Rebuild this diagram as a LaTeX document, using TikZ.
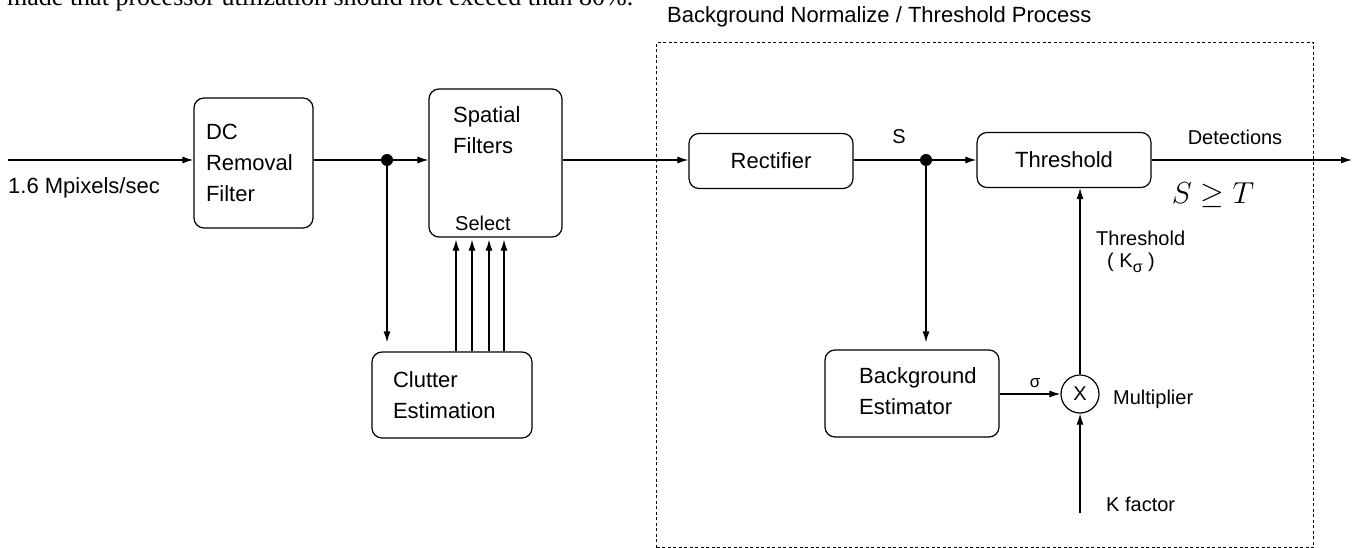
\documentclass[tikz,border=0pt]{standalone}
\usepackage{graphicx}
\usepackage{fontspec}
\setmainfont{Liberation Sans}
\newfontfamily\serifnote{Liberation Serif}
\usetikzlibrary{arrows.meta}
\begin{document}
\begin{tikzpicture}[x=1pt,y=-1pt,
  box/.style={draw, line width=1.2pt, rounded corners=10pt, inner sep=0pt},
  conn/.style={line width=1.2pt},
  arr/.style={conn, -{Latex[length=11pt,width=7pt]}},
  boxtext/.style={font=\fontsize{22}{31}\selectfont},
  lbl/.style={font=\fontsize{20}{24}\selectfont, inner sep=0pt},
  dot/.style={circle, fill, inner sep=0pt, minimum size=12pt}]
\useasboundingbox (0,0) rectangle (1357,548);
\clip (0,0) rectangle (1357,548);

% cut-off sentence at the top
\node[anchor=base west, font=\serifnote\fontsize{26}{30}\selectfont, inner sep=0pt] (note) at (7,6) {made that processor utilization should not exceed than 80\%.};

% dashed frame and title
\node[draw, line width=1pt, dash pattern=on 3pt off 2.5pt, minimum width=657pt, minimum height=505pt, inner sep=0pt, anchor=north west] (frame) at (656,42) {};
\node[anchor=west, font=\fontsize{22}{26}\selectfont, inner sep=0pt] (title) at (667,17) {Background Normalize / Threshold Process};

% boxes
\node[box, minimum width=119pt, minimum height=130pt, text width=95pt, align=left, boxtext] (dc) at (253.5,163) {DC\\Removal\\Filter};
\node[box, minimum width=133pt, minimum height=148pt] (sp) at (495.5,163) {};
\node[boxtext, anchor=west, align=left, inner sep=0pt] (sptext) at (453,130) {Spatial\\Filters};
\node[lbl] (sel) at (483,223) {Select};
\node[box, minimum width=160pt, minimum height=86pt, text width=118pt, align=left, boxtext] (ce) at (452,395) {Clutter\\Estimation};
\node[box, minimum width=164pt, minimum height=55pt, boxtext] (rect) at (771,161) {Rectifier};
\node[box, minimum width=174pt, minimum height=55pt, boxtext] (thr) at (1064,160) {Threshold};
\node[box, minimum width=174pt, minimum height=87pt] (be) at (912,393.5) {};
\node[boxtext, anchor=west, align=left, inner sep=0pt] (betext) at (859,391) {Background\\Estimator};
\node[circle, draw, line width=1.2pt, minimum size=38pt, inner sep=0pt, font=\fontsize{20}{24}\selectfont] (mult) at (1080,394) {X};

% junctions and free ends
\coordinate (in) at (8,160);
\node[dot] (j1) at (387,160) {};
\node[dot] (j2) at (926,160) {};
\coordinate (out) at (1352,160);
\coordinate (kf) at (1080,513);

% connectors
\draw[arr] (in) -- (in -| dc.west);
\draw[conn] (dc.east |- j1) -- (j1);
\draw[arr] (j1) -- (j1 -| sp.west);
\draw[arr, shorten >=9pt] (j1) -- (j1 |- ce.north);
\foreach \x in {456,472,489,504} {
  \draw[arr, shorten >=2pt] (\x,0 |- ce.north) -- (\x,0 |- sp.south);
}
\draw[arr] (sp.east |- j1) -- (rect.west |- j1);
\draw[conn] (rect.east |- j2) -- (j2);
\draw[arr] (j2) -- (j2 -| thr.west);
\draw[arr, shorten >=7pt] (j2) -- (j2 |- be.north);
\draw[arr] (thr.east |- out) -- (out);
\draw[arr] (be.east |- mult) -- (mult.west);
\draw[arr] (mult.north) -- (mult.north |- thr.south);
\draw[arr] (kf) -- (mult.south);

% labels
\node[anchor=west, font=\fontsize{22}{26}\selectfont, inner sep=0pt] (inlbl) at (8,188) {1.6 Mpixels/sec};
\node[lbl] (slbl) at (899,137) {S};
\node[lbl] (det) at (1235,137) {Detections};
\node[inner sep=0pt, font=\fontsize{24.88}{28}\selectfont] (sgt) at (1213,195) {\scalebox{1.22}{$S \geq T$}};
\node[lbl, anchor=west] (thrlbl) at (1096,238) {Threshold};
\node[lbl, anchor=west] (klbl) at (1107,263) {( K\raisebox{-5pt}{\fontsize{16}{16}\selectfont σ} )};
\node[inner sep=0pt, font=\fontsize{17}{20}\selectfont] (siglbl) at (1035,383) {σ};
\node[lbl, anchor=west] (mlbl) at (1113,399) {Multiplier};
\node[lbl, anchor=west] (kflbl) at (1106,504) {K factor};
\end{tikzpicture}
\end{document}
